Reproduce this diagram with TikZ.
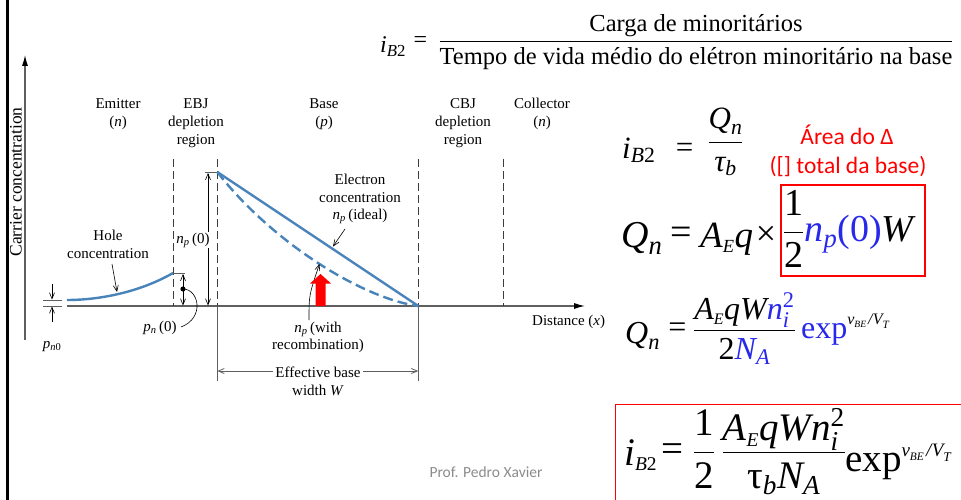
\RequirePackage{fix-cm}
\documentclass[tikz,border=0pt]{standalone}
\usepackage{amsmath}
\usepackage{fontspec}
\setmainfont{Liberation Serif}
\newfontfamily\carl{Carlito}
\usetikzlibrary{arrows.meta}
\definecolor{eqblue}{RGB}{40,40,235}
\definecolor{cblue}{RGB}{72,132,186}
\definecolor{axgray}{RGB}{95,95,95}
\definecolor{dgray}{RGB}{60,60,60}
\definecolor{pgray}{RGB}{140,140,140}
\definecolor{pred}{RGB}{255,0,0}
% exponent v_BE / V_T at absolute sizes
\newcommand\vexp[1]{\mbox{\fontsize{#1}{#1}\selectfont\itshape v\raisebox{-0.2em}{\fontsize{0.6\dimexpr#1pt\relax}{1}\selectfont BE}\hspace{0.12em}/\hspace{0.02em}V\raisebox{-0.25em}{\fontsize{0.7\dimexpr#1pt\relax}{1}\selectfont T}}}
\begin{document}
\begin{tikzpicture}[x=1pt,y=-1pt,
  lbl/.style={font=\fontsize{15}{18}\selectfont, inner sep=0pt, anchor=base},
  ax/.style={draw=axgray, line width=1.1pt},
  dsh/.style={draw=dgray, line width=0.9pt, dash pattern=on 8pt off 4pt},
  thinl/.style={draw=black, line width=0.6pt},
  barb/.style={-{Straight Barb[length=6pt,width=5pt]}},
  dbarb/.style={{Straight Barb[length=6pt,width=5pt]}-{Straight Barb[length=6pt,width=5pt]}},
  curveline/.style={draw=cblue, line width=2.4pt},
  eq/.style={inner sep=0pt, anchor=base west},
]
\useasboundingbox (0,0) rectangle (961,500);
\fill[white] (0,0) rectangle (961,500);
% left black bar
\fill[black] (5.5,0) rectangle (8.5,500);

% ---------- axes ----------
\coordinate (vy0) at (25,340);
\coordinate (vy1) at (25,55);
\draw[ax,-{Latex[length=11pt,width=6pt,color=black]}] (vy0) -- (vy1);
\node[inner sep=0pt, rotate=90, font=\fontsize{17.5}{20}\selectfont] (carrier) at (16,182) {Carrier concentration};

\coordinate (hx0) at (67,306);
\coordinate (hx1) at (585,306);
\draw[ax,-{Latex[length=11pt,width=6pt,color=black]}] (hx0) -- (hx1);
\node[lbl, anchor=base west] (dist) at (532,325) {Distance (\textit{x})};

% p_n0 gap marks
\coordinate (g1a) at (43,300); \coordinate (g1b) at (62,300);
\coordinate (g2a) at (43,306); \coordinate (g2b) at (62,306);
\draw[ax, line width=0.9pt] (g1a) -- (g1b);
\draw[ax, line width=0.9pt] (g2a) -- (g2b);
\coordinate (pa1) at (52,284); \coordinate (pa2) at (52,299.5);
\coordinate (pb1) at (52,322); \coordinate (pb2) at (52,306.5);
\draw[thinl,barb] (pa1) -- (pa2);
\draw[thinl,barb] (pb1) -- (pb2);
\node[lbl] (pn0) at (52,348) {\textit{p}\textsubscript{\textit{n}0}};

% ---------- region boundaries ----------
\coordinate (e1t) at (173,159); \coordinate (e1b) at (173,306);
\coordinate (e2t) at (217.3,159); \coordinate (e2b) at (217.3,306); \coordinate (e2x) at (217.3,381);
\coordinate (c1t) at (418.3,159); \coordinate (c1b) at (418.3,306); \coordinate (c1x) at (418.3,381);
\coordinate (c2t) at (503,159); \coordinate (c2b) at (503,306);
\draw[dsh] (e1t) -- (e1b);
\draw[dsh] (e2t) -- (e2b);
\draw[dsh] (c1t) -- (c1b);
\draw[dsh] (c2t) -- (c2b);
\draw[ax, line width=0.8pt] (e2b) -- (e2x);
\draw[ax, line width=0.8pt] (c1b) -- (c1x);

% ---------- region labels ----------
\node[lbl] (em1) at (118,109) {Emitter};
\node[lbl] (em2) at (118,127) {(\textit{n})};
\node[lbl] (eb1) at (196,109) {EBJ};
\node[lbl] (eb2) at (196,127) {depletion};
\node[lbl] (eb3) at (196,145) {region};
\node[lbl] (ba1) at (324,109) {Base};
\node[lbl] (ba2) at (324,127) {(\textit{p})};
\node[lbl] (cb1) at (463,109) {CBJ};
\node[lbl] (cb2) at (463,127) {depletion};
\node[lbl] (cb3) at (463,145) {region};
\node[lbl] (co1) at (542,109) {Collector};
\node[lbl] (co2) at (542,127) {(\textit{n})};

% ---------- hole concentration ----------
\coordinate (h0) at (67,300);
\coordinate (h1) at (173,273);
\draw[curveline] (h0) .. controls (100,300) and (140,292) .. (h1);
\node[lbl] (hole1) at (108,240) {Hole};
\node[lbl] (hole2) at (108,258) {concentration};
\coordinate (ha0) at (112,264); \coordinate (ha1) at (117,292);
\draw[thinl,barb] (ha0) -- (ha1);

% p_n(0)
\coordinate (pt0) at (173,273); \coordinate (pt1) at (185,273);
\draw[ax, line width=0.8pt] (pt0) -- (pt1);
\coordinate (pd0) at (183,274); \coordinate (pd1) at (183,305.5);
\draw[thinl,dbarb] (pd0) -- (pd1);
\fill[black] (183,289) circle (2.6);
\coordinate (pdot) at (183,289);
\coordinate (pcend) at (181,327);
\draw[thinl] (pdot) .. controls (199,289) and (205,318) .. (pcend);
\node[lbl] (pn) at (160,331) {\textit{p}\textsubscript{\textit{n}}\,(0)};

% n_p(0)
\coordinate (nt0) at (205,172); \coordinate (nt1) at (217,172);
\draw[ax, line width=0.8pt] (nt0) -- (nt1);
\coordinate (nd0) at (208,173); \coordinate (nd1) at (208,305.5);
\draw[thinl,dbarb] (nd0) -- (nd1);
\node[lbl, fill=white, inner sep=1pt] (np0) at (193,243) {\textit{n}\textsubscript{\textit{p}}\,(0)};

% ---------- electron concentration ----------
\coordinate (n0) at (217.3,172);
\coordinate (n1) at (418.3,306);
\draw[curveline] (n0) -- (n1);
\draw[curveline, dash pattern=on 10pt off 5pt] (n0) .. controls (270,240) and (360,298) .. (n1);
\node[lbl] (el1) at (360,184) {Electron};
\node[lbl] (el2) at (360,202) {concentration};
\node[lbl] (el3) at (360,219) {\textit{n}\textsubscript{\textit{p}}\,(ideal)};
\coordinate (ea0) at (345,229); \coordinate (ea1) at (333,246.5);
\draw[thinl,barb] (ea0) -- (ea1);

% recombination
\node[lbl] (rc1) at (318,332) {\textit{n}\textsubscript{\textit{p}}\,(with};
\node[lbl] (rc2) at (318,349) {recombination)};
\coordinate (ra0) at (309,320); \coordinate (ra1) at (319.5,264);
\draw[thinl,barb] (ra0) .. controls (309,295) .. (ra1);

% red arrow
\fill[pred] (315.5,306) -- (325.5,306) -- (325.5,283.5) -- (331,283.5) -- (320.5,274) -- (310,283.5) -- (315.5,283.5) -- cycle;

% effective base width
\coordinate (w0) at (217.3,371); \coordinate (w1) at (418.3,371);
\draw[ax, line width=0.8pt, dbarb] (w0) -- (w1);
\node[lbl, fill=white, inner sep=2pt] (eff1) at (318,377) {Effective base};
\node[lbl] (eff2) at (318,395) {width \textit{W}};

% ---------- formula 1 ----------
\node[eq, font=\fontsize{24}{28}\selectfont] (f1i) at (380,53) {$\textit{i}_{\textit{B}\text{2}}$};
\node[inner sep=0pt, font=\fontsize{24}{28}\selectfont] (f1e) at (420.5,42) {=};
\node[inner sep=0pt, anchor=base, font=\fontsize{24.5}{29}\selectfont] (f1f) at (696,47.6)
  {$\displaystyle\frac{\text{Carga de minoritários}}{\text{Tempo de vida médio do elétron minoritário na base}}$};

% ---------- formula 2 ----------
\node[eq, font=\fontsize{31}{36}\selectfont] (f2i) at (622,158) {$\textit{i}_{\textit{B}\text{2}}$};
\node[inner sep=0pt, font=\fontsize{31}{36}\selectfont] (f2e) at (684.5,150) {=};
\node[inner sep=0pt, anchor=base, font=\fontsize{31}{36}\selectfont] (f2f) at (725.5,149.75)
  {$\displaystyle\frac{\textit{Q}_{\textit{n}}}{\textit{τ}_{\textit{b}}}$};

% area label
\node[inner sep=0pt, anchor=base, font=\carl\fontsize{23.5}{28}\selectfont, text=pred] (ar1) at (847,145) {Área do Δ};
\node[inner sep=0pt, anchor=base, font=\carl\fontsize{23.5}{28}\selectfont, text=pred] (ar2) at (848,173) {([] total da base)};

% ---------- formula 3 ----------
\node[eq, font=\fontsize{38}{44}\selectfont] (f3q) at (621,247) {$\textit{Q}_{\textit{n}}$};
\node[inner sep=0pt, font=\fontsize{38}{44}\selectfont] (f3e) at (681,236) {=};
\node[eq, font=\fontsize{37}{44}\selectfont] (f3a) at (700,247) {$\textit{A}_{\scriptscriptstyle\textit{E}}\textit{q}$};
\node[inner sep=0pt, font=\fontsize{36}{44}\selectfont] (f3x) at (766,236) {×};
\node[eq, font=\fontsize{38}{44}\selectfont] (f3f) at (783,241.5)
  {$\displaystyle\frac{\text{1}}{\text{2}}\color{eqblue}\textit{n}_{\textit{p}}\text{(0)}\color{black}\textit{W}$};
\draw[draw=pred, line width=2.5pt] (781,185) rectangle (925,276);

% ---------- formula 4 ----------
\node[eq, font=\fontsize{32}{38}\selectfont] (f4q) at (625,343) {$\textit{Q}_{\textit{n}}$};
\node[inner sep=0pt, font=\fontsize{32}{38}\selectfont] (f4e) at (677.5,330) {=};
\node[eq, font=\fontsize{32}{38}\selectfont] (f4f) at (693,338)
  {$\displaystyle\frac{\raisebox{-3pt}[\height][0pt]{$\textit{A}_{\scriptscriptstyle\textit{E}}\textit{qW}\color{eqblue}\textit{n}_{\textit{i}}^{\text{2}}$}}{\text{2}\color{eqblue}\textit{N}_{\textit{A}}}\,\color{eqblue}\text{exp}^{\color{black}\vexp{16}}$};

% ---------- formula 5 ----------
\draw[draw=pred, line width=1pt] (615,404) rectangle (970,510);
\node[eq, font=\fontsize{39}{46}\selectfont] (f5i) at (624,465) {$\textit{i}_{\scriptscriptstyle\textit{B}\text{2}}$};
\node[inner sep=0pt, font=\fontsize{39}{46}\selectfont] (f5e) at (672,453) {=};
\node[eq, font=\fontsize{39}{46}\selectfont] (f5f) at (693,461.75)
  {$\displaystyle\frac{\text{1}}{\text{2}}\,\frac{\raisebox{-5pt}[\height][0pt]{$\textit{A}_{\scriptscriptstyle\textit{E}}\textit{qW}\textit{n}_{\textit{i}}^{\text{2}}$}}{\text{τ}_{\textit{b}}\textit{N}_{\textit{A}}}$};
\node[eq, font=\fontsize{39}{46}\selectfont] (f5x) at (845,471)
  {$\text{exp}^{\vexp{19}}$};

% footer
\node[inner sep=0pt, anchor=base, font=\carl\fontsize{15.5}{18}\selectfont, text=pgray] (prof) at (486,477) {Prof. Pedro Xavier};
\end{tikzpicture}
\end{document}
